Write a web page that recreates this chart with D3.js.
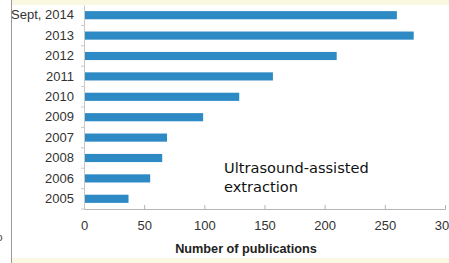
<html>
<head>
<meta charset="UTF-8">
<title>index.html</title>
<script src="https://d3js.org/d3.v7.min.js"></script>
<style>
body { margin:0; background:#fff; }
</style>
</head>
<body>
<svg width="449" height="263"></svg>
<script>
// data
var years = ["Sept, 2014", "2013", "2012", "2011", "2010", "2009", "2007", "2008", "2006", "2005"];
var pubs = [260, 274, 210, 157, 129, 99, 69, 65, 55, 37];
var xTicks = [0, 50, 100, 150, 200, 250, 300];

var svg = d3.select("svg");

// yellow frame around the white panel
svg.append("rect").attr("x", 12).attr("y", 0).attr("width", 437).attr("height", 5).style("fill", "#fbf8e2");
svg.append("rect").attr("x", 12).attr("y", 258).attr("width", 437).attr("height", 5).style("fill", "#fbf8e2");
svg.append("line").attr("x1", 11.5).attr("x2", 11.5).attr("y1", 0).attr("y2", 263)
  .style("stroke", "#9a9a9a").style("stroke-width", 1);
svg.append("text").attr("x", -3).attr("y", 241).text("ɔ")
  .style("font-family", "Liberation Sans, Arial, sans-serif").style("font-size", "11px").style("fill", "#444");

var xScale = d3.scaleLinear().domain([0, 300]).range([84, 445]);
var yScale = d3.scaleBand().domain(years).range([5, 209]).paddingInner(0.6).paddingOuter(0.3);

// bars
svg.append("g").selectAll("rect").data(years).enter().append("rect")
  .attr("x", xScale(0))
  .attr("y", function(d) { return yScale(d); })
  .attr("width", function(d, i) { return xScale(pubs[i]) - xScale(0); })
  .attr("height", yScale.bandwidth())
  .style("fill", "#2e8ac5");

// x axis
var x_axis = d3.axisBottom(xScale).tickValues(xTicks).tickSize(-4).tickPadding(12);
var gx = svg.append("g").attr("transform", "translate(0,209)").call(x_axis);
gx.select(".domain").style("stroke", "#b5b5b5");
gx.selectAll(".tick line").style("stroke", "#b5b5b5");
gx.selectAll("text").style("font-family", "Liberation Sans, Arial, sans-serif")
  .style("font-size", "13px").style("fill", "#333");

// y axis, ticks sit between the bars
var gy = svg.append("g").attr("transform", "translate(84,0)")
  .call(d3.axisLeft(yScale).tickSize(0).tickPadding(10));
gy.select(".domain").style("stroke", "#c8c8c8");
gy.selectAll("text").style("font-family", "Liberation Sans, Arial, sans-serif")
  .style("font-size", "13px").style("fill", "#333");
var step = yScale.step();
gy.selectAll(".sep").data(years).enter().append("line")
  .attr("x1", -3).attr("x2", 0)
  .attr("y1", function(d) { return yScale(d) + yScale.bandwidth() + (step - yScale.bandwidth()) / 2; })
  .attr("y2", function(d) { return yScale(d) + yScale.bandwidth() + (step - yScale.bandwidth()) / 2; })
  .style("stroke", "#c8c8c8");

// axis title
svg.append("text").attr("x", 246).attr("y", 253).attr("text-anchor", "middle")
  .text("Number of publications")
  .style("font-family", "Liberation Sans, Arial, sans-serif")
  .style("font-size", "12.7px").style("font-weight", "bold").style("fill", "#222");

// annotation
var note = svg.append("text").attr("x", 224).attr("y", 173)
  .style("font-family", "DejaVu Sans, sans-serif").style("font-size", "14.6px").style("fill", "#111");
note.append("tspan").attr("x", 224).text("Ultrasound-assisted");
note.append("tspan").attr("x", 224).attr("dy", 19).text("extraction");
</script>
</body>
</html>
